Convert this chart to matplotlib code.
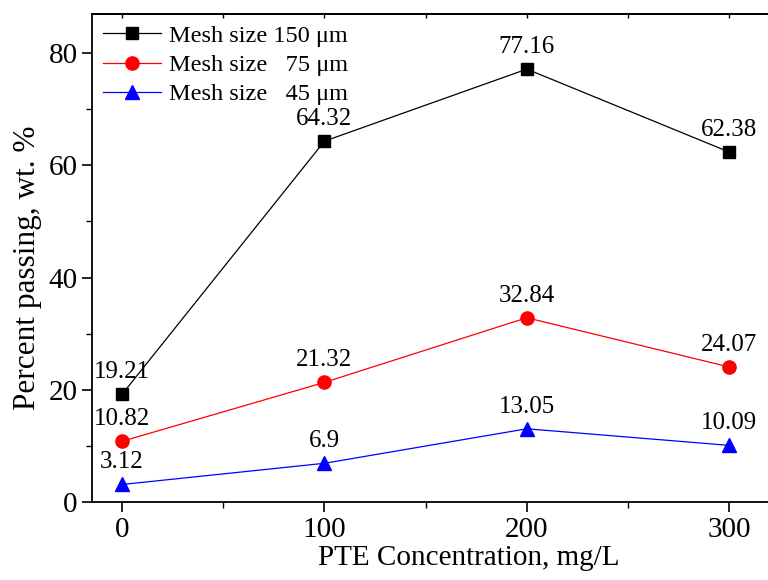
import matplotlib
matplotlib.use("Agg")
import matplotlib.pyplot as plt
from matplotlib.ticker import MultipleLocator, NullFormatter

plt.rcParams['font.family'] = ['Liberation Serif', 'DejaVu Serif']
plt.rcParams['mathtext.fontset'] = 'stix'

# Données
concentration = [0, 100, 200, 300]
mesh_150 = [19.21, 64.32, 77.16, 62.38]
mesh_75 = [10.82, 21.32, 32.84, 24.07]
mesh_45 = [3.12, 6.9, 13.05, 10.09]
labels = ["Mesh size 150 \u03bcm", "Mesh size   75 \u03bcm", "Mesh size   45 \u03bcm"]

fig = plt.figure(figsize=(7.68, 5.8), dpi=100)
# la zone du graphique déborde à droite (figure recadrée)
ax = fig.add_axes([0.12, 0.1345, 0.982, 0.8415])

series = [(mesh_150, 'black', 's', 8.5), (mesh_75, 'red', 'o', 9.5), (mesh_45, 'blue', '^', 10.5)]
for (vals, col, mk, ms), lab in zip(series, labels):
    ax.plot(concentration, vals, color=col, marker=mk, markersize=ms, linewidth=0.9, label=lab,
            clip_on=False)
    for x, y in zip(concentration, vals):
        ax.annotate(f'{y:g}', (x, y), xytext=(0, 8), textcoords='offset points',
                    ha='center', va='bottom', fontsize=18)

ax.set_xlim(-14.8, 357.9)
ax.set_ylim(0, 87)
ax.xaxis.set_major_locator(MultipleLocator(100))
ax.xaxis.set_minor_locator(MultipleLocator(50))
ax.yaxis.set_major_locator(MultipleLocator(20))
ax.yaxis.set_minor_locator(MultipleLocator(10))
ax.tick_params(which='major', direction='out', length=7, width=1.2, labelsize=21)
ax.tick_params(which='minor', direction='out', length=4, width=1.0)
for s in ax.spines.values():
    s.set_linewidth(1.3)

# petits traits vers l'intérieur sur le bord supérieur
top = ax.secondary_xaxis('top')
top.xaxis.set_major_locator(MultipleLocator(50))
top.xaxis.set_major_formatter(NullFormatter())
top.tick_params(direction='in', length=3, width=1.0)
top.spines['top'].set_linewidth(1.3)

ax.set_xlabel("PTE Concentration, mg/L", fontsize=21, labelpad=2)
ax.set_ylabel("Percent passing, wt. %", fontsize=22.5, labelpad=5)
ax.yaxis.label.set_y(0.48)

ax.legend(loc='upper left', frameon=False, fontsize=17.5, handlelength=2.4,
          borderaxespad=0.15, labelspacing=0.3, handletextpad=0.3, borderpad=0.3)

fig.savefig("out.png", dpi=100)
